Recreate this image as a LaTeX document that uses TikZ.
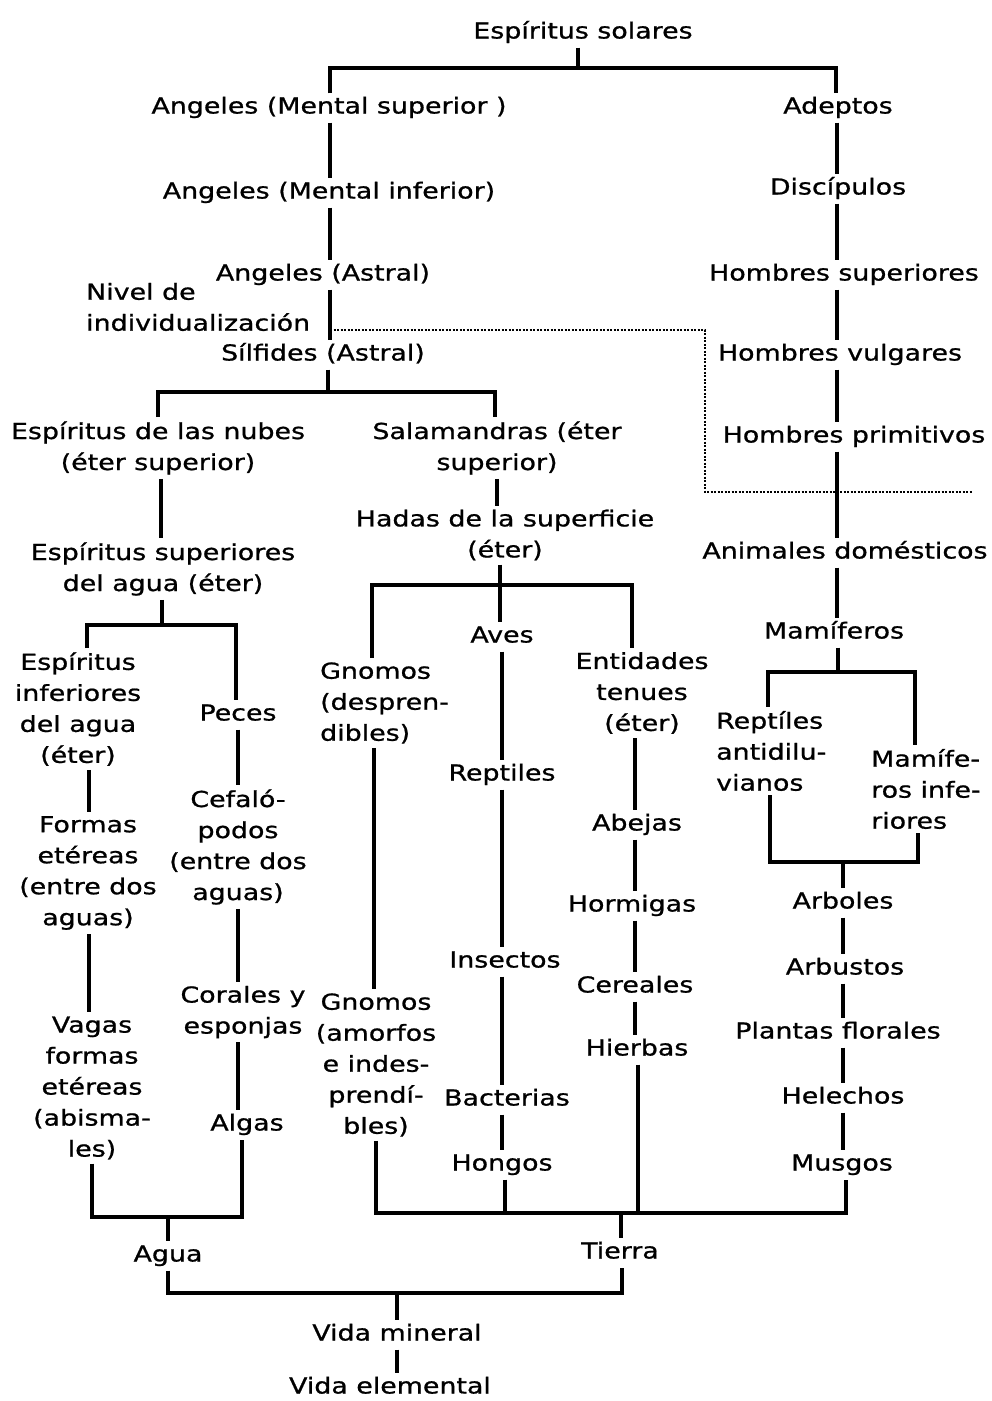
\documentclass[tikz,border=0pt]{standalone}
\usepackage{fontspec}
\setmainfont{DejaVu Sans}[FakeStretch=1.22,FakeBold=0.9]
\begin{document}
\begin{tikzpicture}[x=1pt,y=-1pt,
  lbl/.style={inner xsep=2pt, inner ysep=4pt, font=\fontsize{22}{31}\selectfont, text height=16pt, text depth=5pt, yshift=-3pt},
  mlbl/.style={inner xsep=2pt, inner ysep=4pt, font=\fontsize{22}{31}\selectfont, align=center},
  mlbll/.style={inner xsep=2pt, inner ysep=4pt, font=\fontsize{22}{31}\selectfont, align=left},
  ln/.style={line width=3.2pt},
  lvl/.style={line width=2.8pt, dash pattern=on 2pt off 1.5pt}]
\useasboundingbox[fill=white] (0,0) rectangle (992,1401);

% ---------- nodes ----------
\node[lbl] (sol) at (583,30) {Espíritus solares};
\node[lbl] (ams) at (329,105) {Angeles (Mental superior )};
\node[lbl] (ami) at (329,190) {Angeles (Mental inferior)};
\node[lbl] (aas) at (323,272) {Angeles (Astral)};
\node[mlbll, anchor=west] (niv) at (84,307) {Nivel de\\individualización};
\node[lbl] (sil) at (323,352) {Sílfides (Astral)};

\node[lbl] (ade) at (838,105) {Adeptos};
\node[lbl] (dis) at (838,186) {Discípulos};
\node[lbl] (hsu) at (844,272) {Hombres superiores};
\node[lbl] (hvu) at (840,352) {Hombres vulgares};
\node[lbl] (hpr) at (854,434) {Hombres primitivos};
\node[lbl] (ado) at (845,550) {Animales domésticos};
\node[lbl] (mam) at (834,630) {Mamíferos};
\node[mlbll, anchor=west] (rep) at (714,751) {Reptíles\\antidilu-\\vianos};
\node[mlbll, anchor=west] (mif) at (869,789) {Mamífe-\\ros infe-\\riores};
\node[lbl] (arb) at (843,900) {Arboles};
\node[lbl] (arbu) at (845,966) {Arbustos};
\node[lbl] (pla) at (838,1030) {Plantas florales};
\node[lbl] (hel) at (843,1095) {Helechos};
\node[lbl] (mus) at (842,1162) {Musgos};

\node[mlbl] (nub) at (158,448) {Espíritus de las nubes\\(éter superior)};
\node[mlbl] (sal) at (497,448) {Salamandras (éter\\superior)};
\node[mlbl] (esa) at (163,569) {Espíritus superiores\\del agua (éter)};
\node[mlbl] (hadas) at (505,535) {Hadas de la superficie\\(éter)};

\node[mlbl] (ein) at (78,709) {Espíritus\\inferiores\\del agua\\(éter)};
\node[lbl] (pec) at (238,712) {Peces};
\node[mlbl] (for) at (88,873) {Formas\\etéreas\\(entre dos\\aguas)};
\node[mlbl] (cef) at (238,847) {Cefaló-\\podos\\(entre dos\\aguas)};
\node[mlbl] (cor) at (243,1012) {Corales y\\esponjas};
\node[mlbl] (vag) at (92,1088) {Vagas\\formas\\etéreas\\(abisma-\\les)};
\node[lbl] (alg) at (247,1122) {Algas};

\node[mlbll, anchor=west] (gn1) at (318,703) {Gnomos\\(despren-\\dibles)};
\node[mlbl] (gn2) at (376,1065) {Gnomos\\(amorfos\\e indes-\\prendí-\\bles)};
\node[lbl] (aves) at (502,634) {Aves};
\node[lbl] (rept) at (502,772) {Reptiles};
\node[lbl] (ins) at (505,959) {Insectos};
\node[lbl] (bac) at (507,1097) {Bacterias};
\node[lbl] (hon) at (502,1162) {Hongos};
\node[mlbl] (ent) at (642,693) {Entidades\\tenues\\(éter)};
\node[lbl] (abe) at (637,822) {Abejas};
\node[lbl] (hor) at (632,903) {Hormigas};
\node[lbl] (cer) at (635,984) {Cereales};
\node[lbl] (hie) at (637,1047) {Hierbas};

\node[lbl] (agu) at (168,1253) {Agua};
\node[lbl] (tie) at (620,1250) {Tierra};
\node[lbl] (vm) at (397,1332) {Vida mineral};
\node[lbl] (ve) at (390,1385) {Vida elemental};

% ---------- helper coordinates ----------
\coordinate (c0) at (578,68);
\coordinate (t0L) at (330,68);
\coordinate (t0R) at (836,68);
\coordinate (RX) at (837,0);
\coordinate (lvA) at (330,330);
\coordinate (lvB) at (705,330);
\coordinate (lvC) at (705,492);
\coordinate (lvD) at (972,492);
\coordinate (mb) at (838,672);
\coordinate (mbL) at (768,672);
\coordinate (mbR) at (915,672);
\coordinate (lb) at (843,862);
\coordinate (lbL) at (770,862);
\coordinate (lbR) at (918,862);
\coordinate (AX) at (843,0);
\coordinate (bbL) at (376,1213);
\coordinate (bbH) at (505,1213);
\coordinate (bbI) at (638,1213);
\coordinate (bbT) at (621,1213);
\coordinate (bbR) at (846,1213);
\coordinate (sb) at (328,392);
\coordinate (sbL) at (158,392);
\coordinate (sbR) at (495,392);
\coordinate (NX) at (161,0);
\coordinate (eb) at (162,625);
\coordinate (ebL) at (87,625);
\coordinate (ebR) at (236,625);
\coordinate (EX) at (89,0);
\coordinate (PX) at (238,0);
\coordinate (ab) at (168,1217);
\coordinate (abL) at (92,1217);
\coordinate (abR) at (242,1217);
\coordinate (vb) at (397,1293);
\coordinate (vbL) at (168,1293);
\coordinate (vbR) at (622,1293);
\coordinate (SX) at (497,0);
\coordinate (hb) at (500,585);
\coordinate (hbL) at (372,585);
\coordinate (hbR) at (632,585);
\coordinate (GX) at (374,0);
\coordinate (VX) at (502,0);
\coordinate (TX) at (635,0);

% ---------- connectors ----------
\draw[ln] (sol.south -| c0) -- (c0);
\draw[ln] (ams.north -| t0L) -- (t0L) -- (t0R) -- (ade.north -| t0R);
\draw[ln] (ams.south -| t0L) -- (ami.north -| t0L);
\draw[ln] (ami.south -| t0L) -- (aas.north -| t0L);
\draw[ln] (aas.south -| t0L) -- (sil.north -| t0L);
\draw[lvl] (lvA) -- (lvB) -- (lvC) -- (lvD);

\draw[ln] (ade.south -| RX) -- (dis.north -| RX);
\draw[ln] (dis.south -| RX) -- (hsu.north -| RX);
\draw[ln] (hsu.south -| RX) -- (hvu.north -| RX);
\draw[ln] (hvu.south -| RX) -- (hpr.north -| RX);
\draw[ln] (hpr.south -| RX) -- (ado.north -| RX);
\draw[ln] (ado.south -| RX) -- (mam.north -| RX);
\draw[ln] (mam.south -| mb) -- (mb);
\draw[ln] (rep.north -| mbL) -- (mbL) -- (mbR) -- (mif.north -| mbR);
\draw[ln] (rep.south -| lbL) -- (lbL) -- (lbR) -- (mif.south -| lbR);
\draw[ln] (lb) -- (arb.north -| lb);
\draw[ln] (arb.south -| AX) -- (arbu.north -| AX);
\draw[ln] (arbu.south -| AX) -- (pla.north -| AX);
\draw[ln] (pla.south -| AX) -- (hel.north -| AX);
\draw[ln] (hel.south -| AX) -- (mus.north -| AX);

\draw[ln] (gn2.south -| bbL) -- (bbL) -- (bbR) -- (mus.south -| bbR);
\draw[ln] (hon.south -| bbH) -- (bbH);
\draw[ln] (hie.south -| bbI) -- (bbI);
\draw[ln] (bbT) -- (tie.north -| bbT);

\draw[ln] (sil.south -| sb) -- (sb);
\draw[ln] (nub.north -| sbL) -- (sbL) -- (sbR) -- (sal.north -| sbR);
\draw[ln] (nub.south -| NX) -- (esa.north -| NX);
\draw[ln] (esa.south -| eb) -- (eb);
\draw[ln] (ein.north -| ebL) -- (ebL) -- (ebR) -- (pec.north -| ebR);
\draw[ln] (ein.south -| EX) -- (for.north -| EX);
\draw[ln] (for.south -| EX) -- (vag.north -| EX);
\draw[ln] (pec.south -| PX) -- (cef.north -| PX);
\draw[ln] (cef.south -| PX) -- (cor.north -| PX);
\draw[ln] (cor.south -| PX) -- (alg.north -| PX);
\draw[ln] (vag.south -| abL) -- (abL) -- (abR) -- (alg.south -| abR);
\draw[ln] (ab) -- (agu.north -| ab);
\draw[ln] (agu.south -| vbL) -- (vbL) -- (vbR) -- (tie.south -| vbR);
\draw[ln] (vb) -- (vm.north -| vb);
\draw[ln] (vm.south -| vb) -- (ve.north -| vb);

\draw[ln] (sal.south -| SX) -- (hadas.north -| SX);
\draw[ln] (hadas.south -| hb) -- (hb);
\draw[ln] (gn1.north -| hbL) -- (hbL) -- (hbR) -- (ent.north -| hbR);
\draw[ln] (hb) -- (aves.north -| hb);
\draw[ln] (gn1.south -| GX) -- (gn2.north -| GX);
\draw[ln] (aves.south -| VX) -- (rept.north -| VX);
\draw[ln] (rept.south -| VX) -- (ins.north -| VX);
\draw[ln] (ins.south -| VX) -- (bac.north -| VX);
\draw[ln] (bac.south -| VX) -- (hon.north -| VX);
\draw[ln] (ent.south -| TX) -- (abe.north -| TX);
\draw[ln] (abe.south -| TX) -- (hor.north -| TX);
\draw[ln] (hor.south -| TX) -- (cer.north -| TX);
\draw[ln] (cer.south -| TX) -- (hie.north -| TX);
\end{tikzpicture}
\end{document}
